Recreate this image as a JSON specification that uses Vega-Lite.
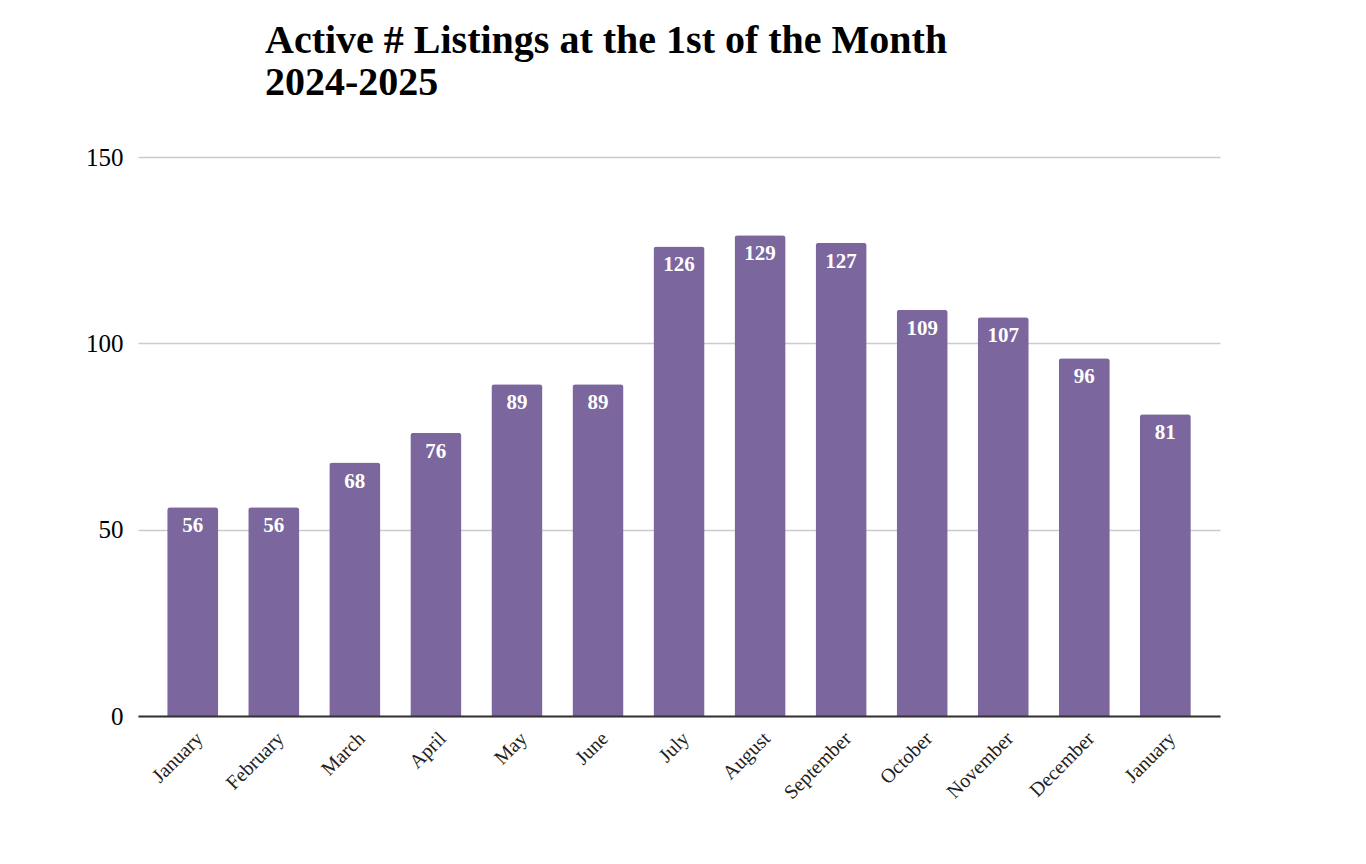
{
  "$schema": "https://vega.github.io/schema/vega-lite/v6.json",
  "width": 1082,
  "height": 559,
  "autosize": {"type": "none"},
  "padding": {"left": 138, "top": 157, "right": 146, "bottom": 148},
  "background": "white",
  "title": {
    "text": ["Active # Listings at the 1st of the Month", "2024-2025"],
    "anchor": "start",
    "frame": "group",
    "dx": 127,
    "offset": 42,
    "font": "Liberation Serif",
    "fontSize": 40,
    "fontWeight": "bold",
    "color": "black",
    "lineHeight": 42
  },
  "data": {
    "values": [
      {"month": "January 2024", "listings": 56},
      {"month": "February 2024", "listings": 56},
      {"month": "March 2024", "listings": 68},
      {"month": "April 2024", "listings": 76},
      {"month": "May 2024", "listings": 89},
      {"month": "June 2024", "listings": 89},
      {"month": "July 2024", "listings": 126},
      {"month": "August 2024", "listings": 129},
      {"month": "September 2024", "listings": 127},
      {"month": "October 2024", "listings": 109},
      {"month": "November 2024", "listings": 107},
      {"month": "December 2024", "listings": 96},
      {"month": "January 2025", "listings": 81}
    ]
  },
  "encoding": {
    "x": {
      "field": "month",
      "type": "nominal",
      "sort": null,
      "scale": {"paddingInner": 0.37, "paddingOuter": 0.36},
      "axis": {
        "title": null,
        "labelAngle": -45,
        "labelFont": "Liberation Serif",
        "labelFontSize": 20,
        "labelColor": "#222222",
        "ticks": false,
        "domainColor": "#333333",
        "domainWidth": 2,
        "labelPadding": 12,
        "labelExpr": "split(datum.label, ' ')[0]",
        "zindex": 1
      }
    },
    "y": {
      "field": "listings",
      "type": "quantitative",
      "scale": {"domain": [0, 150]},
      "axis": {
        "title": null,
        "domain": false,
        "ticks": false,
        "values": [0, 50, 100, 150],
        "gridColor": "#cccccc",
        "gridWidth": 1.5,
        "labelFont": "Liberation Serif",
        "labelFontSize": 25,
        "labelColor": "black",
        "labelPadding": 15
      }
    }
  },
  "layer": [
    {"mark": {"type": "bar", "color": "#7b679e", "cornerRadiusTopLeft": 3, "cornerRadiusTopRight": 3}},
    {
      "mark": {"type": "text", "baseline": "top", "dy": 8, "color": "white", "font": "Liberation Serif", "fontSize": 21, "fontWeight": "bold"},
      "encoding": {"text": {"field": "listings", "type": "quantitative"}}
    }
  ],
  "config": {"view": {"stroke": null}}
}
